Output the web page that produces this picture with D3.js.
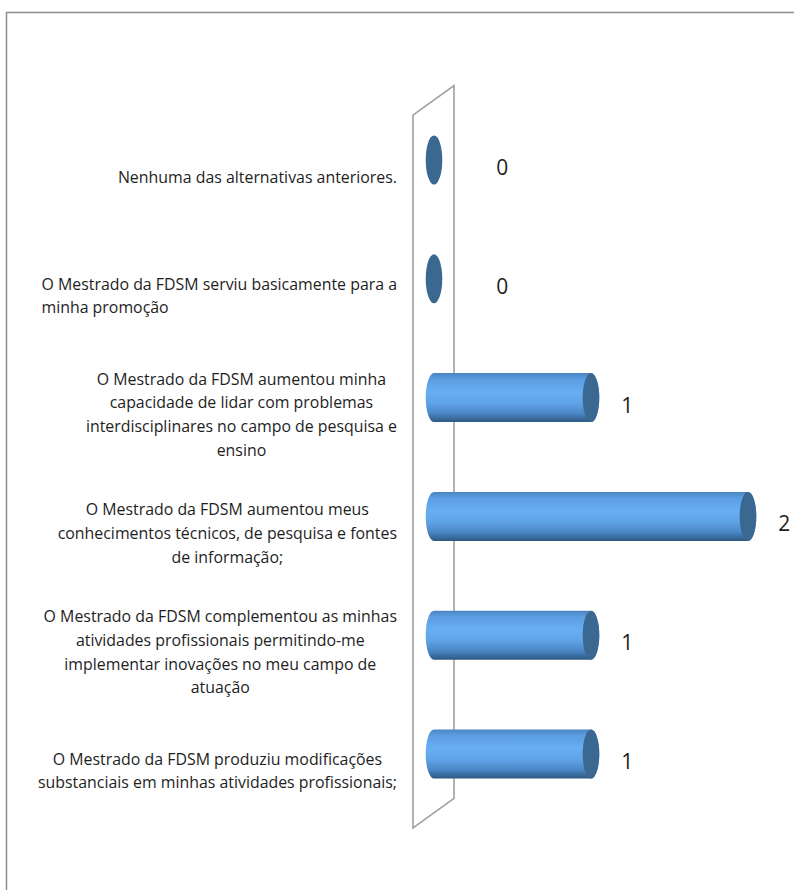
<!DOCTYPE html>
<html>
<head>
<meta charset="utf-8">
<script src="https://cdn.jsdelivr.net/npm/d3@7"></script>
<style>
  body { margin: 0; background: #fff; }
  svg { display: block; }
</style>
</head>
<body>
<script>
// category labels, top to bottom, already wrapped like in the sheet
const categories = [
    ["Nenhuma das alternativas anteriores."],
    ["O Mestrado da FDSM serviu basicamente para a", "minha promoção"],
    ["O Mestrado da FDSM aumentou minha", "capacidade de lidar com problemas", "interdisciplinares no campo de pesquisa e", "ensino"],
    ["O Mestrado da FDSM aumentou meus", "conhecimentos técnicos, de pesquisa e fontes", "de informação;"],
    ["O Mestrado da FDSM complementou as minhas", "atividades profissionais permitindo-me", "implementar inovações no meu campo de", "atuação"],
    ["O Mestrado da FDSM produziu modificações", "substanciais em minhas atividades profissionais;"]
];
const values = [0, 0, 1, 2, 1, 1];
const valueDomain = [0, 2];

// the second label sits flush left in the reference
const leftAlignedLabels = [1];

const W = 794, H = 890;
const font = "'Open Sans', Lato, sans-serif";
const svg = d3.select("body").append("svg")
    .attr("width", W)
    .attr("height", H);

// outer chart frame (runs off the right / bottom edge)
svg.append("rect")
    .attr("x", 6.5).attr("y", 12.5)
    .attr("width", 900).attr("height", 900)
    .attr("fill", "#fff")
    .attr("stroke", "#8e8e8e")
    .attr("stroke-width", 1.5);

const defs = svg.append("defs");
const grad = defs.append("linearGradient")
    .attr("id", "cyl")
    .attr("x1", 0).attr("y1", 0).attr("x2", 0).attr("y2", 1);
[[0, "#4a84c2"], [0.12, "#5b9de0"], [0.38, "#67aef2"], [0.6, "#60a4e8"],
 [0.82, "#4b87c6"], [1, "#2d5983"]].forEach(s => {
    grad.append("stop").attr("offset", s[0]).attr("stop-color", s[1]);
});

const y = d3.scaleBand()
    .domain(d3.range(categories.length))
    .range([100.6, 813.4]);

const x = d3.scaleLinear()
    .domain(valueDomain)
    .range([434, 748]);

// 3d depth of the side wall
const depth = {dx: 41, dy: -29.5};
const wallX = 413;
const rx = 8.3, ry = 24.5;

const [y0, y1] = y.range();
const front = 14.5;
svg.append("path")
    .attr("d", `M${wallX},${y0 + front} L${wallX + depth.dx},${y0 + front + depth.dy} ` +
               `L${wallX + depth.dx},${y1 + front + depth.dy} L${wallX},${y1 + front} Z`)
    .attr("fill", "none")
    .attr("stroke", "#a0a0a0")
    .attr("stroke-width", 1.6);

const cy = i => y(i) + y.bandwidth() / 2;

// cylinders
const bars = svg.append("g");
values.forEach((v, i) => {
    const c = cy(i);
    const xa = x(0), xb = x(v);
    if (v > 0) {
        bars.append("path")
            .attr("d", `M${xa},${c - ry} L${xb},${c - ry} A${rx},${ry} 0 0 1 ${xb},${c + ry} ` +
                       `L${xa},${c + ry} A${rx},${ry} 0 0 1 ${xa},${c - ry} Z`)
            .attr("fill", "url(#cyl)");
    }
    bars.append("ellipse")
        .attr("cx", xb).attr("cy", c)
        .attr("rx", rx).attr("ry", ry)
        .attr("fill", "#3b6891");
});

// value labels
svg.append("g").selectAll("text")
    .data(values)
    .join("text")
    .attr("x", (d, i) => x(d) + rx + (d === 0 ? 60 : 28))
    .attr("y", (d, i) => cy(i) + 15)
    .attr("text-anchor", "middle")
    .attr("font-family", font)
    .attr("font-size", 21)
    .attr("fill", "#1e1e1e")
    .text(d => d);

// category labels, each block right-aligned to the wall, lines centred in the block
const labelRight = 397, lineH = 23.6;
categories.forEach((lines, i) => {
    const c = cy(i) + 17;
    const g = svg.append("g");
    const texts = lines.map((ln, k) => g.append("text")
        .attr("y", c + (k - (lines.length - 1) / 2) * lineH + 5.5)
        .attr("font-family", font)
        .attr("font-size", 15.9)
        .attr("fill", "#1e1e1e")
        .text(ln));
    const maxW = d3.max(texts, t => t.node().getComputedTextLength());
    if (leftAlignedLabels.includes(i)) {
        texts.forEach(t => t.attr("x", labelRight - maxW).attr("text-anchor", "start"));
    } else {
        texts.forEach(t => t.attr("x", labelRight - maxW / 2).attr("text-anchor", "middle"));
    }
});
</script>
</body>
</html>
